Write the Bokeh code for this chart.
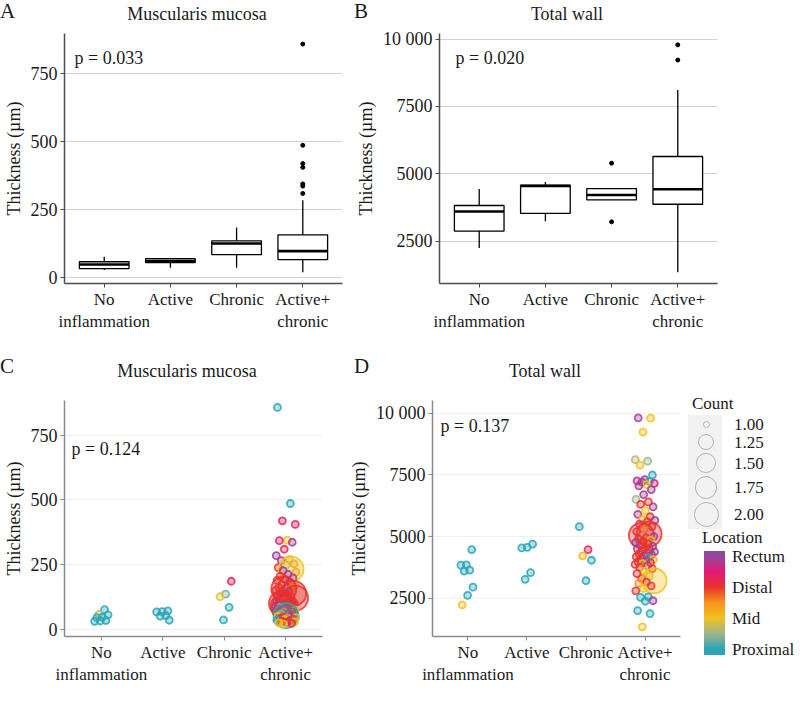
import math
from bokeh.plotting import figure
from bokeh.models import Range1d, FixedTicker, Label, LinearColorMapper, ColumnDataSource, Div
from bokeh.layouts import row, column
from bokeh.embed import file_html
from bokeh.resources import INLINE

FONT = "Liberation Serif"

# ---------------- data ----------------
categories = ["No\ninflammation", "Active", "Chronic", "Active+\nchronic"]

# Panel A: Muscularis mucosa box statistics (µm)
mm_whisker_low = [28, 36, 36, 19]
mm_q1 = [33, 55, 84, 66]
mm_median = [48, 60, 125, 97]
mm_q3 = [58, 69, 135, 157]
mm_whisker_high = [76, 70, 184, 284]
mm_outlier_cat = [4, 4, 4, 4, 4, 4, 4]
mm_outlier_val = [858, 486, 419, 405, 344, 336, 309]

# Panel B: Total wall box statistics (µm)
tw_whisker_low = [2242, 3238, 4025, 1344]
tw_q1 = [2869, 3523, 4025, 3866]
tw_median = [3597, 4542, 4210, 4420]
tw_q3 = [3818, 4579, 4446, 5638]
tw_whisker_high = [4431, 4690, 4446, 8113]
tw_outlier_cat = [3, 3, 4, 4]
tw_outlier_val = [5391, 3212, 9785, 9220]

mm_ticks = [0, 250, 500, 750]
mm_tick_labels = ["0", "250", "500", "750"]
tw_ticks = [2500, 5000, 7500, 10000]
tw_tick_labels = ["2500", "5000", "7500", "10 000"]

# Location: 1 = Proximal, 2 = Mid, 3 = Distal, 4 = Rectum
location_ticks = [1, 2, 3, 4]
location_labels = ["Proximal", "Mid", "Distal", "Rectum"]
count_breaks = [1.00, 1.25, 1.50, 1.75, 2.00]
count_labels = ["1.00", "1.25", "1.50", "1.75", "2.00"]

# Panel C: Muscularis mucosa individual points
mm_noinf_val = [75, 57, 55, 46, 44, 33, 31, 30]
mm_noinf_loc = [1.0, 1.7, 1.0, 1.0, 1.0, 1.0, 1.0, 1.0]
mm_noinf_cnt = [1, 1, 1, 1, 1, 1, 1, 1]
mm_act_val = [70, 67, 66, 52, 50, 34]
mm_act_loc = [1.0, 1.0, 1.0, 1.0, 1.0, 1.0]
mm_act_cnt = [1, 1, 1, 1, 1, 1]
mm_chr_val = [185, 135, 125, 84, 35]
mm_chr_loc = [3.3, 1.3, 1.9, 1.0, 1.0]
mm_chr_cnt = [1, 1, 1, 1, 1]
mm_ac_val = [858, 486, 419, 405, 344, 342, 336, 309,
             284, 270, 265, 252, 248, 238, 232, 226, 220, 212, 205, 198, 192, 188, 180, 172, 168, 162, 160, 158,
             155, 150, 146, 142, 138, 135, 130, 127, 124, 120, 116, 112, 110, 107, 104, 101, 99, 98, 97,
             95, 93, 90, 88, 86, 84, 82, 80, 78, 76, 75, 73, 71, 69, 67, 66,
             64, 60, 58, 55, 52, 50, 48, 46, 44, 42, 40, 38, 36, 34, 32, 30, 28, 26, 24, 22, 19]
mm_ac_loc = [1.0, 1.0, 3.3, 3.3, 2.0, 3.4, 3.9, 3.2,
             3.9, 2.2, 3.8, 2.4, 1.7, 3.0, 2.0, 3.9, 2.3, 3.8, 3.0, 3.9, 3.3, 3.0, 3.7, 3.0, 2.1, 3.9, 3.0, 2.0,
             3.0, 3.1, 3.8, 3.0, 3.0, 3.9, 3.0, 3.0, 3.6, 3.0, 3.0, 3.9, 3.0, 2.8, 3.0, 3.9, 3.0, 3.0, 3.0,
             3.9, 3.0, 3.0, 3.8, 3.0, 2.2, 3.0, 3.9, 3.0, 3.0, 3.8, 2.0, 3.0, 3.9, 3.0, 2.5,
             3.0, 3.9, 1.6, 3.0, 1.0, 2.0, 3.9, 3.0, 1.7, 2.4, 3.8, 3.0, 2.0, 1.0, 3.9, 3.0, 2.0, 3.2, 2.0, 3.0, 2.0]
mm_ac_cnt = [1, 1, 1, 1, 1, 1, 1, 1,
             1, 1, 1, 1, 1, 1, 2, 1, 1, 1, 1, 1, 1, 1, 1, 1, 1, 1, 1, 1,
             2, 1, 1, 1, 2, 1, 1, 1, 1, 2, 1, 1, 1, 1, 1, 1, 2, 1, 1,
             1, 1, 2, 1, 1, 1, 1, 1, 1, 1, 1, 1, 1, 1, 1, 1,
             1, 1, 1, 1, 2, 1, 1, 1, 1, 1, 1, 1, 1, 1, 1, 1, 1, 1, 1, 1, 1]

# Panel D: Total wall individual points
tw_noinf_val = [4470, 3850, 3840, 3640, 3600, 2950, 2620, 2230]
tw_noinf_loc = [1.0, 1.0, 1.0, 1.0, 1.0, 1.0, 1.0, 2.0]
tw_noinf_cnt = [1, 1, 1, 1, 1, 1, 1, 1]
tw_act_val = [4690, 4560, 4540, 3540, 3265]
tw_act_loc = [1.0, 1.0, 1.0, 1.0, 1.0]
tw_act_cnt = [1, 1, 1, 1, 1]
tw_chr_val = [5400, 4470, 4220, 4040, 3210]
tw_chr_loc = [1.0, 3.3, 2.1, 1.0, 1.0]
tw_chr_cnt = [1, 1, 1, 1, 1]
tw_ac_val = [9800, 9790, 9230,
             8113, 8050, 7890, 7490, 7300, 7250, 7230, 7200, 7150, 7100, 7050, 6900, 6700, 6500, 6400, 6300, 6200, 6050, 5900, 5800, 5700, 5650,
             5600, 5500, 5400, 5300, 5200, 5100, 5050, 5000, 4950, 4900, 4850, 4800, 4750, 4700, 4650, 4600, 4550, 4500, 4450, 4420,
             4380, 4340, 4300, 4260, 4220, 4180, 4140, 4100, 4060, 4020, 3980, 3940, 3900, 3870,
             3820, 3760, 3700, 3600, 3500, 3400, 3300, 3210, 3150, 3100, 3000, 2900, 2800, 2560, 2540, 2400, 2380, 2000, 1880, 1344]
tw_ac_loc = [3.9, 2.0, 2.0,
             1.6, 1.5, 2.0, 1.0, 3.9, 3.7, 1.0, 3.9, 3.5, 2.0, 3.9, 3.9, 3.9, 1.5, 3.0, 3.0, 3.9, 2.0, 3.8, 3.0, 2.2, 3.9,
             3.0, 3.2, 3.0, 2.0, 3.0, 3.0, 3.0, 3.9, 3.0, 3.0, 2.1, 3.0, 3.9, 3.0, 3.0, 3.9, 3.0, 3.9, 3.0, 3.0,
             3.9, 3.0, 3.0, 3.9, 3.8, 3.0, 1.0, 3.0, 2.1, 3.9, 3.0, 3.0, 2.0, 3.0,
             3.9, 3.0, 3.0, 2.0, 3.0, 2.2, 3.0, 2.0, 3.0, 2.5, 3.0, 2.0, 3.0, 1.0, 1.0, 3.9, 1.0, 1.0, 1.0, 2.0]
tw_ac_cnt = [1, 1, 1,
             1, 1, 1, 1, 1, 1, 1, 1, 1, 1, 1, 1, 1, 1, 1, 1, 1, 1, 1, 1, 1, 1,
             1, 1, 1, 1, 1, 2, 2, 1, 1, 1, 1, 1, 1, 1, 1, 1, 1, 1, 1, 1,
             1, 1, 1, 1, 1, 1, 1, 1, 1, 1, 1, 1, 1, 1,
             1, 1, 1, 1, 1, 1, 1, 2, 1, 1, 1, 1, 1, 1, 1, 1, 1, 1, 1, 1]

p_values = ["p = 0.033", "p = 0.020", "p = 0.124", "p = 0.137"]
panel_titles = ["Muscularis mucosa", "Total wall", "Muscularis mucosa", "Total wall"]
panel_letters = ["A", "B", "C", "D"]

# ---------------- styling helpers ----------------
loc_anchor_vals = [1.0, 1.5, 2.0, 2.5, 3.0, 3.5, 4.0]
loc_anchor_cols = ["#2ba6b6", "#a3b38a", "#f1c21b", "#f5921e", "#e8322c", "#e2187a", "#8f4a9c"]
LOC_LOW, LOC_HIGH = 0.8, 4.15


def hex2rgb(h):
    return tuple(int(h[i:i + 2], 16) for i in (1, 3, 5))


def interp_color(v):
    v = min(max(v, loc_anchor_vals[0]), loc_anchor_vals[-1])
    for k in range(len(loc_anchor_vals) - 1):
        a, b = loc_anchor_vals[k], loc_anchor_vals[k + 1]
        if a <= v <= b:
            t = (v - a) / (b - a)
            c0, c1 = hex2rgb(loc_anchor_cols[k]), hex2rgb(loc_anchor_cols[k + 1])
            return "#%02x%02x%02x" % tuple(int(round(c0[j] + (c1[j] - c0[j]) * t)) for j in range(3))
    return loc_anchor_cols[-1]


palette = [interp_color(LOC_LOW + (LOC_HIGH - LOC_LOW) * k / 255.0) for k in range(256)]
mapper = LinearColorMapper(palette=palette, low=LOC_LOW, high=LOC_HIGH)


def size_for(c):
    return 7 + 18 * math.sqrt(max(c - 1.0, 0.0))


def style_axes(p, axis_color, grid_color, ticks, tick_labels):
    p.xaxis.ticker = FixedTicker(ticks=[1, 2, 3, 4])
    p.xaxis.major_label_overrides = {i + 1: c for i, c in enumerate(categories)}
    p.yaxis.ticker = FixedTicker(ticks=ticks)
    p.yaxis.major_label_overrides = {t: l for t, l in zip(ticks, tick_labels)}
    for ax in (p.xaxis[0], p.yaxis[0]):
        ax.axis_line_color = axis_color
        ax.axis_line_width = 1.5
        ax.major_tick_line_color = axis_color
        ax.major_tick_line_width = 1
        ax.major_tick_out = 4
        ax.major_tick_in = 0
        ax.minor_tick_line_color = None
        ax.major_label_text_font = FONT
        ax.major_label_text_font_size = "18px"
        ax.major_label_text_color = "#1a1a1a"
        ax.major_label_standoff = 3
    p.xaxis.major_label_text_font_size = "17px"
    p.xaxis.major_label_standoff = 2
    p.yaxis.axis_label = "Thickness (µm)"
    p.yaxis.axis_label_text_font = FONT
    p.yaxis.axis_label_text_font_size = "18px"
    p.yaxis.axis_label_text_font_style = "normal"
    p.yaxis.axis_label_text_color = "#1a1a1a"
    p.yaxis.axis_label_standoff = 4
    p.xgrid.visible = False
    p.ygrid.grid_line_color = grid_color
    p.ygrid.grid_line_width = 1
    p.outline_line_color = None


def add_pvalue(p, idx, fh, p_dx, p_dy):
    p.add_layout(Label(x=p_dx, y=fh - p_dy, x_units="screen", y_units="screen",
                       text=p_values[idx], text_font=FONT, text_font_size="18px",
                       text_align="left", text_baseline="middle", text_color="#1a1a1a"))


TOP_FH = 250
BOT_FH = 236


def box_panel(idx, wl, q1, med, q3, wh, out_cat, out_val, y_lo, y_hi, ticks, tick_labels,
              left, right, p_dx, p_dy):
    fw, fh = 278, TOP_FH
    p = figure(frame_width=fw, frame_height=fh, min_border_left=left, min_border_right=right,
               min_border_top=9, min_border_bottom=54, title=None,
               x_range=Range1d(0.4, 4.6), y_range=Range1d(y_lo, y_hi),
               output_backend="svg", toolbar_location=None)
    style_axes(p, "#4d4d4d", "#d2d2d2", ticks, tick_labels)
    xs = [1, 2, 3, 4]
    p.segment(x0=xs, y0=wl, x1=xs, y1=q1, line_color="black", line_width=1.3)
    p.segment(x0=xs, y0=q3, x1=xs, y1=wh, line_color="black", line_width=1.3)
    p.quad(left=[x - 0.375 for x in xs], right=[x + 0.375 for x in xs], bottom=q1, top=q3,
           fill_color="white", line_color="black", line_width=1.3)
    p.segment(x0=[x - 0.375 for x in xs], y0=med, x1=[x + 0.375 for x in xs], y1=med,
              line_color="black", line_width=2.6)
    p.scatter(x=out_cat, y=out_val, size=4, color="black")
    add_pvalue(p, idx, fh, p_dx, p_dy)
    return p


def jitter(n, width, seed):
    return [width * (2 * (((k + 1) * 0.6180339887 + seed) % 1.0) - 1) for k in range(n)]


def point_panel(idx, groups, y_lo, y_hi, ticks, tick_labels, fw, left, right, p_dx, p_dy):
    fh = BOT_FH
    p = figure(frame_width=fw, frame_height=fh, min_border_left=left, min_border_right=right,
               min_border_top=19, min_border_bottom=54, title=None,
               x_range=Range1d(0.4, 4.6), y_range=Range1d(y_lo, y_hi),
               output_backend="svg", toolbar_location=None)
    style_axes(p, "#8a8a8a", "#f0f0f0", ticks, tick_labels)
    xs, ys, locs, sizes = [], [], [], []
    for ci, (vals, lc, cnt) in enumerate(groups):
        w = 0.17 if ci == 3 else 0.12
        offs = jitter(len(vals), w, 0.13 * ci + 0.05 * idx)
        for v, l, c, o in zip(vals, lc, cnt, offs):
            xs.append(ci + 1 + o)
            ys.append(v)
            locs.append(l)
            sizes.append(size_for(c))
    src = ColumnDataSource(dict(x=xs, y=ys, loc=locs, size=sizes))
    cmap = {"field": "loc", "transform": mapper}
    p.scatter(x="x", y="y", size="size", source=src, fill_color=cmap, line_color=cmap,
              fill_alpha=0.35, line_alpha=0.85, line_width=1.8)
    add_pvalue(p, idx, fh, p_dx, p_dy)
    return p


def span(text, left, top, size, width=None, center=False):
    extra = ""
    if center:
        extra = "width:%dpx;text-align:center;" % width
    return ('<span style="position:absolute;left:%.1fpx;top:%.1fpx;font-size:%dpx;'
            'line-height:1;white-space:nowrap;%s">%s</span>' % (left, top, size, extra, text))


def box_div(width, height, inner):
    html = ('<div style="position:relative;width:%dpx;height:%dpx;font-family:\'%s\';'
            'color:#1a1a1a;overflow:visible">%s</div>' % (width, height, FONT, inner))
    return Div(text=html, width=width, height=height, margin=0)


# ---------------- panels ----------------
pA = box_panel(0, mm_whisker_low, mm_q1, mm_median, mm_q3, mm_whisker_high,
               mm_outlier_cat, mm_outlier_val, -22, 897, mm_ticks, mm_tick_labels,
               left=58, right=10, p_dx=10, p_dy=24)
pB = box_panel(1, tw_whisker_low, tw_q1, tw_median, tw_q3, tw_whisker_high,
               tw_outlier_cat, tw_outlier_val, 922, 10207, tw_ticks, tw_tick_labels,
               left=82, right=78, p_dx=16, p_dy=24)

pC = point_panel(2, [(mm_noinf_val, mm_noinf_loc, mm_noinf_cnt),
                     (mm_act_val, mm_act_loc, mm_act_cnt),
                     (mm_chr_val, mm_chr_loc, mm_chr_cnt),
                     (mm_ac_val, mm_ac_loc, mm_ac_cnt)],
                 -29, 885, mm_ticks, mm_tick_labels, fw=258, left=58, right=23, p_dx=7, p_dy=48)
pD = point_panel(3, [(tw_noinf_val, tw_noinf_loc, tw_noinf_cnt),
                     (tw_act_val, tw_act_loc, tw_act_cnt),
                     (tw_chr_val, tw_chr_loc, tw_chr_cnt),
                     (tw_ac_val, tw_ac_loc, tw_ac_cnt)],
                 952, 10507, tw_ticks, tw_tick_labels, fw=248, left=82, right=8, p_dx=8, p_dy=25)

# ---------------- legend (HTML key) ----------------
LEG_W, LEG_H = 107, 309
parts = [span("Count", 4, 13.5, 17)]
sizes_leg = [size_for(c) for c in count_breaks]
key_h = [max(18.0, s + 4.0) for s in sizes_leg]
cy = [43.0]
for k in range(1, len(key_h)):
    cy.append(cy[-1] + 0.96 * (key_h[k - 1] + key_h[k]) / 2.0)
bg_top = cy[0] - key_h[0] / 2.0
bg_bot = cy[-1] + key_h[-1] / 2.0
parts.append('<div style="position:absolute;left:0px;top:%.1fpx;width:34px;height:%.1fpx;'
             'background:#f2f2f2"></div>' % (bg_top, bg_bot - bg_top))
for s, y, lab in zip(sizes_leg, cy, count_labels):
    parts.append('<div style="position:absolute;left:%.1fpx;top:%.1fpx;width:%.1fpx;height:%.1fpx;'
                 'box-sizing:border-box;border:1.5px solid #b3b3b3;border-radius:50%%"></div>'
                 % (18 - s / 2.0, y - s / 2.0, s, s))
    parts.append(span(lab, 46, y - 8.5, 17))
parts.append(span("Location", 14, 148, 17))
BAR_L, BAR_T, BAR_W, BAR_H = 16, 170, 21, 104
stops = ["%s 0%%" % loc_anchor_cols[0]]
for v, c in zip(loc_anchor_vals, loc_anchor_cols):
    stops.append("%s %.1f%%" % (c, (v - LOC_LOW) / (LOC_HIGH - LOC_LOW) * 100))
stops.append("%s 100%%" % loc_anchor_cols[-1])
parts.append('<div style="position:absolute;left:%dpx;top:%dpx;width:%dpx;height:%dpx;'
             'background:linear-gradient(to top, %s)"></div>'
             % (BAR_L, BAR_T, BAR_W, BAR_H, ", ".join(stops)))
for t, lab in zip(location_ticks, location_labels):
    ty = BAR_T + (LOC_HIGH - t) / (LOC_HIGH - LOC_LOW) * BAR_H
    parts.append(span(lab, BAR_L + BAR_W + 7, ty - 8, 17))
legend_div = box_div(LEG_W, LEG_H, "".join(parts))

# ---------------- headers (panel letters and titles) ----------------
head_top = box_div(784, 24, "".join([
    span(panel_letters[0], 0, 1, 21),
    span(panel_titles[0], 197 - 150, 5, 18, width=300, center=True),
    span(panel_letters[1], 354, 1, 21),
    span(panel_titles[1], 567 - 150, 5, 18, width=300, center=True),
]))
head_bottom = box_div(784, 44, "".join([
    span(panel_letters[2], 0, 19, 21),
    span(panel_titles[2], 187 - 150, 25, 18, width=300, center=True),
    span(panel_letters[3], 354, 19, 21),
    span(panel_titles[3], 545 - 150, 25, 18, width=300, center=True),
]))

layout = column(head_top, row(pA, pB), head_bottom, row(pC, pD, legend_div))

with open("out.html", "w") as f:
    f.write(file_html(layout, INLINE))
